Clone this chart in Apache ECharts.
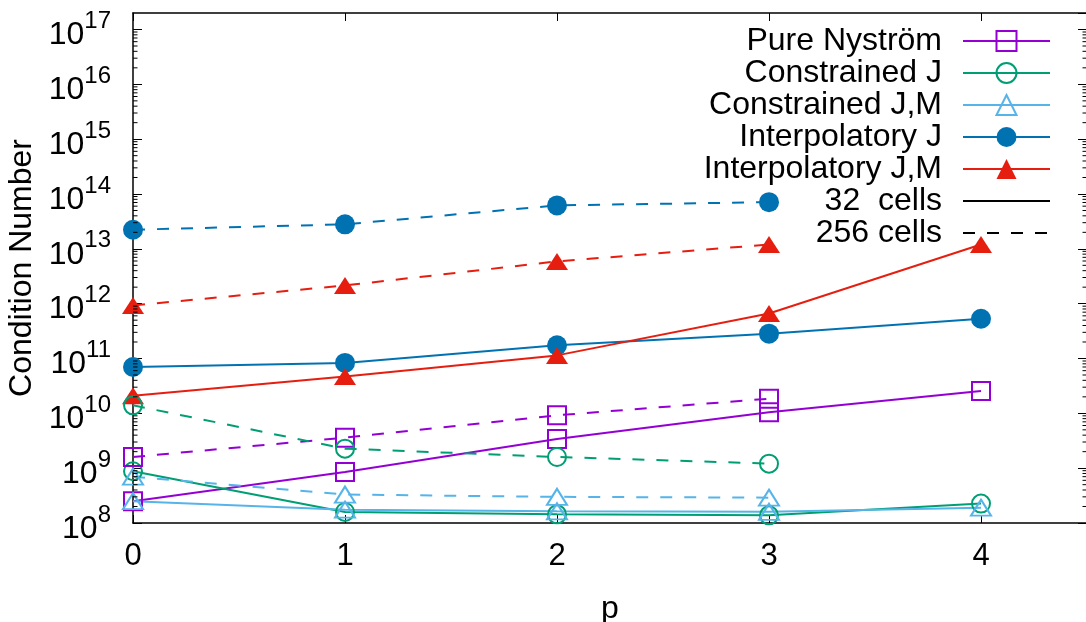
<!DOCTYPE html>
<html>
<head>
<meta charset="utf-8">
<script src="https://cdn.jsdelivr.net/npm/echarts@6/dist/echarts.min.js"></script>
<style>
  html, body { margin: 0; padding: 0; background: #fff; }
  #chart { width: 1086px; height: 622px; }
</style>
</head>
<body>
<div id="chart"></div>
<script>
// Polynomial order p on the x axis
const pOrders = [0, 1, 2, 3, 4];

// Condition numbers, 32 cells (solid lines)
const nystrom32        = [2.5e8, 8.5e8, 3.4e9, 1.05e10, 2.55e10];
const constrainedJ32   = [8.8e8, 1.59e8, 1.44e8, 1.38e8, 2.26e8];
const constrainedJM32  = [2.5e8, 1.75e8, 1.63e8, 1.6e8, 1.9e8];
const interpJ32        = [7.0e10, 8.3e10, 1.74e11, 2.84e11, 5.3e11];
const interpJM32       = [2.1e10, 4.7e10, 1.14e11, 6.6e11, 1.2e13];

// Condition numbers, 256 cells (dashed lines, p = 0..3)
const nystrom256       = [1.6e9, 3.6e9, 9.2e9, 1.85e10];
const constrainedJ256  = [1.4e10, 2.27e9, 1.6e9, 1.21e9];
const constrainedJM256 = [7e8, 3.3e8, 3.0e8, 2.9e8];
const interpJ256       = [2.23e13, 2.8e13, 6.2e13, 7.1e13];
const interpJM256      = [9.3e11, 2.15e12, 5.9e12, 1.2e13];

// Axis ranges and tick factors for the log-scale minor ticks
const xRange = [0, 4.5];
const yRange = [1e8, 2e17];
const minorFactors = [2, 3, 4, 5, 6, 7, 8, 9];

const FONT = "'Liberation Sans', Arial, Helvetica, sans-serif";
const DASH = [12, 12];

function pairs(values) {
  return values.map((v, i) => [pOrders[i], v]);
}

function methodSeries(name, values, color, symbol, size, filled, dashed) {
  return {
    name: name,
    type: 'line',
    data: pairs(values),
    symbol: symbol,
    symbolSize: size,
    showAllSymbol: true,
    lineStyle: { color: color, width: 2, type: dashed ? DASH : 'solid' },
    itemStyle: filled
      ? { color: color }
      : { color: 'rgba(0,0,0,0)', borderColor: color, borderWidth: 2 },
    emphasis: { disabled: true },
    z: 3
  };
}

// minor tick values inside each decade of the y range
const minorTicks = [];
for (let e = Math.log10(yRange[0]); e < Math.log10(yRange[1]); e++) {
  for (const f of minorFactors) {
    const v = f * Math.pow(10, e);
    if (v < yRange[1]) minorTicks.push([xRange[0], v]);
  }
}

const PURPLE = '#9400d3', GREEN = '#009e73', SKY = '#56b4e9', BLUE = '#0072b2', RED = '#e51e10';

const series = [
  methodSeries('Pure Nyström', nystrom32, PURPLE, 'rect', 18, false, false),
  methodSeries('Constrained J', constrainedJ32, GREEN, 'circle', 18, false, false),
  methodSeries('Constrained J,M', constrainedJM32, SKY, 'triangle', [20, 16], false, false),
  methodSeries('Interpolatory J', interpJ32, BLUE, 'circle', 20, true, false),
  methodSeries('Interpolatory J,M', interpJM32, RED, 'triangle', [22, 17], true, false),
  methodSeries('Pure Nyström', nystrom256, PURPLE, 'rect', 18, false, true),
  methodSeries('Constrained J', constrainedJ256, GREEN, 'circle', 18, false, true),
  methodSeries('Constrained J,M', constrainedJM256, SKY, 'triangle', [20, 16], false, true),
  methodSeries('Interpolatory J', interpJ256, BLUE, 'circle', 20, true, true),
  methodSeries('Interpolatory J,M', interpJM256, RED, 'triangle', [22, 17], true, true),
  {
    name: '32  cells', type: 'line', data: [], symbol: 'none',
    lineStyle: { color: '#000', width: 2, type: 'solid' },
    itemStyle: { color: 'rgba(0,0,0,0)' }
  },
  {
    name: '256 cells', type: 'line', data: [], symbol: 'none',
    lineStyle: { color: '#000', width: 2, type: DASH },
    itemStyle: { color: 'rgba(0,0,0,0)' }
  },
  {
    name: 'minor ticks', type: 'custom', data: minorTicks, silent: true, clip: false, z: 4,
    renderItem: function (params, api) {
      const v = api.value(1);
      const l = api.coord([xRange[0], v]);
      const r = api.coord([xRange[1], v]);
      const len = 4.5;
      return {
        type: 'group',
        children: [
          { type: 'line', shape: { x1: l[0], y1: l[1], x2: l[0] + len, y2: l[1] }, style: { stroke: '#000', lineWidth: 1 } },
          { type: 'line', shape: { x1: r[0] - len, y1: r[1], x2: r[0], y2: r[1] }, style: { stroke: '#000', lineWidth: 1 } }
        ]
      };
    }
  }
];

function powerLabel(v) {
  const lg = Math.log10(v);
  const e = Math.round(lg);
  if (Math.abs(lg - e) > 1e-6) return '';
  return '{b|10}{s|' + e + '}';
}

const axisLineStyle = { color: '#000', width: 1.5 };

const option = {
  animation: false,
  backgroundColor: '#fff',
  textStyle: { fontFamily: FONT },
  grid: { left: 133, top: 13, right: -1, bottom: 99, containLabel: false, outerBoundsMode: 'none' },
  legend: {
    orient: 'vertical',
    align: 'right',
    right: 35,
    top: 25,
    padding: 0,
    itemWidth: 87,
    itemHeight: 25,
    itemGap: 0,
    selectedMode: false,
    data: ['Pure Nyström', 'Constrained J', 'Constrained J,M', 'Interpolatory J', 'Interpolatory J,M', '32  cells', '256 cells'],
    textStyle: { fontSize: 32, lineHeight: 32, color: '#000', fontFamily: FONT, padding: [0, 16, 0, 0] }
  },
  xAxis: [
    {
      type: 'value', min: xRange[0], max: xRange[1], interval: 1,
      name: 'p', nameLocation: 'middle', nameGap: 70,
      nameTextStyle: { fontSize: 32, color: '#000', fontFamily: FONT },
      axisLine: { show: true, onZero: false, lineStyle: axisLineStyle },
      axisTick: { show: true, inside: true, length: 8, lineStyle: { color: '#000', width: 1 } },
      axisLabel: {
        fontSize: 31, color: '#000', fontFamily: FONT, margin: 18, showMaxLabel: false,
        formatter: v => (Number.isInteger(v) ? String(v) : '')
      },
      splitLine: { show: false }
    },
    {
      type: 'value', position: 'top', min: xRange[0], max: xRange[1], interval: 1,
      axisLine: { show: true, onZero: false, lineStyle: axisLineStyle },
      axisTick: { show: true, inside: true, length: 8, lineStyle: { color: '#000', width: 1 } },
      axisLabel: { show: false },
      splitLine: { show: false }
    }
  ],
  yAxis: [
    {
      type: 'log', logBase: 10, min: yRange[0], max: yRange[1], splitNumber: 10,
      name: 'Condition Number', nameLocation: 'middle', nameGap: 90, nameRotate: 90,
      nameTextStyle: { fontSize: 32, color: '#000', fontFamily: FONT },
      axisLine: { show: true, onZero: false, lineStyle: axisLineStyle },
      axisTick: { show: true, inside: true, length: 9, lineStyle: { color: '#000', width: 1 } },
      axisLabel: {
        margin: 22, showMaxLabel: false, padding: [12, 0, 0, 0],
        formatter: powerLabel,
        rich: {
          b: { fontSize: 32, lineHeight: 52, color: '#000', fontFamily: FONT },
          s: { fontSize: 24, lineHeight: 24, verticalAlign: 'top', color: '#000', fontFamily: FONT }
        }
      },
      splitLine: { show: false },
      minorTick: { show: false }
    },
    {
      type: 'log', logBase: 10, min: yRange[0], max: yRange[1], splitNumber: 10, position: 'right',
      axisLine: { show: true, onZero: false, lineStyle: axisLineStyle },
      axisTick: { show: true, inside: true, length: 9, lineStyle: { color: '#000', width: 1 } },
      axisLabel: { show: false },
      splitLine: { show: false }
    }
  ],
  series: series
};

const chart = echarts.init(document.getElementById('chart'), null, { renderer: 'canvas' });
chart.setOption(option);
</script>
</body>
</html>
